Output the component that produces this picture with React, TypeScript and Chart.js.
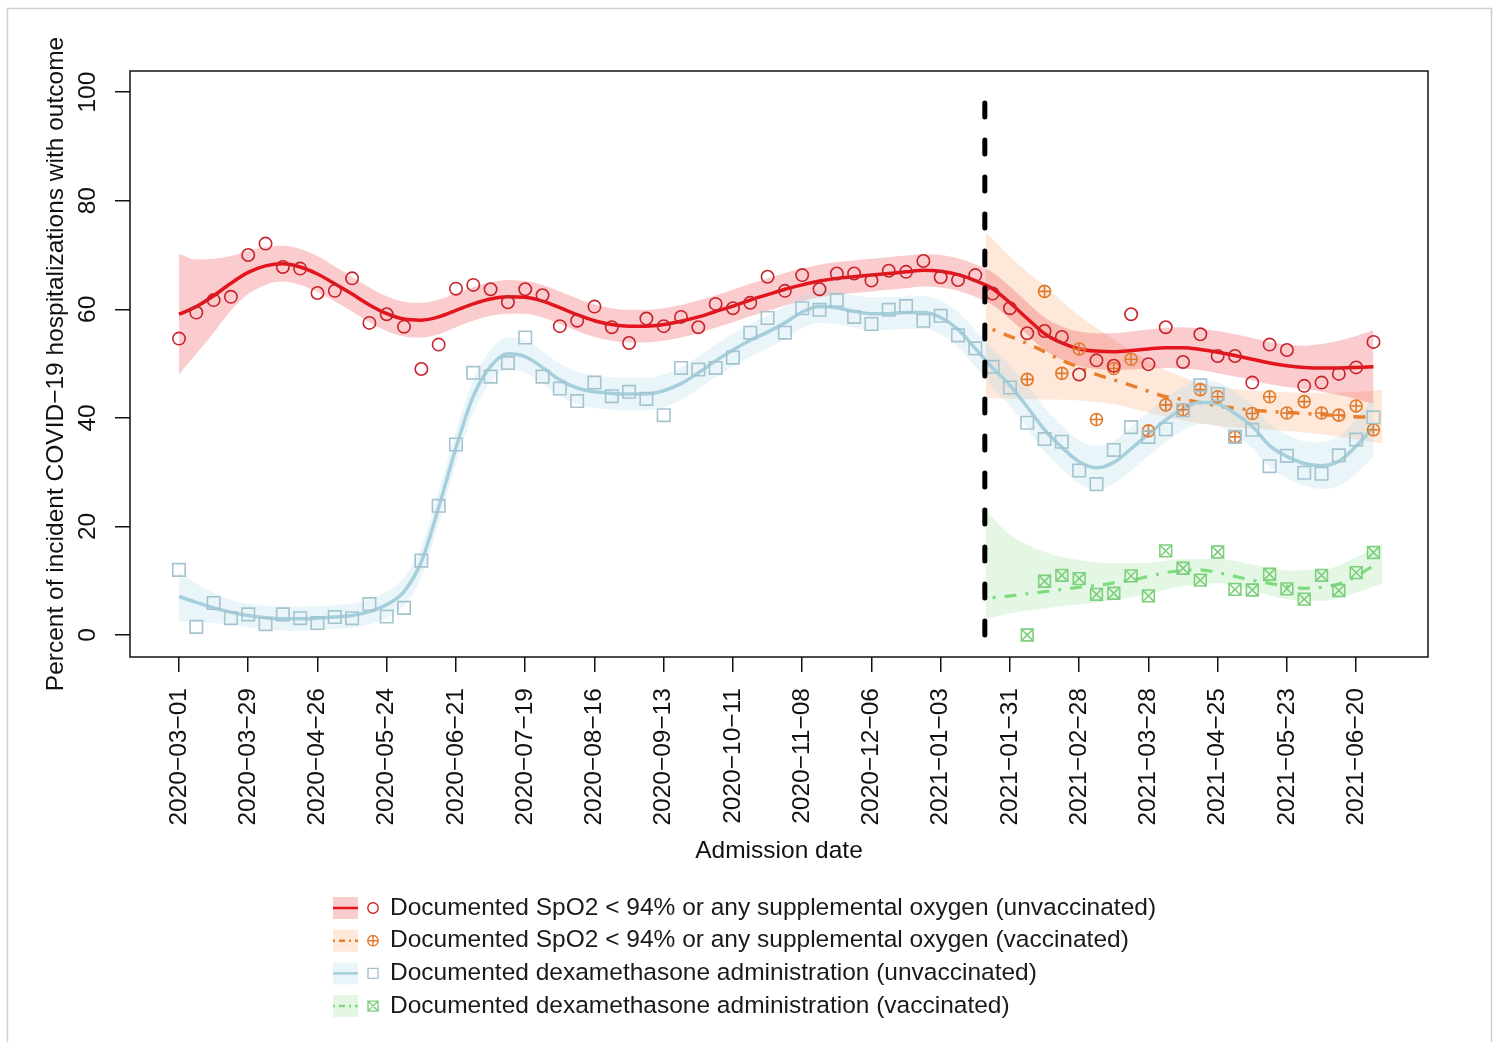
import React, { useEffect, useRef } from 'react';
import { Chart, registerables } from 'chart.js';

Chart.register(...registerables);

const FONT = "'Liberation Sans', Arial, Helvetica, sans-serif";
const TEXT_SIZE = 24.5;

// ---- axis ticks (x = weeks since 2020-03-01) ----
const TICK_WEEKS = [0, 4, 8, 12, 16, 20, 24, 28, 32, 36, 40, 44, 48, 52, 56, 60, 64, 68];
const TICK_LABELS = [
  '2020−03−01', '2020−03−29', '2020−04−26', '2020−05−24', '2020−06−21', '2020−07−19',
  '2020−08−16', '2020−09−13', '2020−10−11', '2020−11−08', '2020−12−06', '2021−01−03',
  '2021−01−31', '2021−02−28', '2021−03−28', '2021−04−25', '2021−05−23', '2021−06−20',
];
const Y_TICKS = [0, 20, 40, 60, 80, 100];
const VACCINE_CUTOFF_WEEK = 46.55;
const VAX_POINT_START = 49;
const VAX_FIT_START = 47;

// ---- weekly observed percentages ----
const RED_POINTS = [
  54.6, 59.4, 61.7, 62.3, 70.0, 72.1, 67.8, 67.5, 63.0, 63.4,
  65.7, 57.5, 59.1, 56.8, 49.0, 53.5, 63.8, 64.5, 63.7, 61.3,
  63.7, 62.6, 56.9, 57.9, 60.5, 56.7, 53.8, 58.3, 56.9, 58.6,
  56.7, 61.0, 60.2, 61.2, 66.0, 63.4, 66.3, 63.7, 66.6, 66.6,
  65.3, 67.1, 66.9, 68.9, 65.9, 65.4, 66.3, 62.9, 60.2, 55.6,
  56.0, 54.9, 48.0, 50.6, 49.6, 59.1, 49.9, 56.7, 50.3, 55.4,
  51.4, 51.4, 46.5, 53.5, 52.5, 45.9, 46.5, 48.1, 49.3, 54.0,
];
const BLUE_POINTS = [
  12.0, 1.5, 5.9, 3.1, 3.8, 2.0, 3.8, 3.1, 2.2, 3.3,
  3.1, 5.7, 3.4, 5.0, 13.7, 23.8, 35.1, 48.3, 47.6, 50.1,
  54.8, 47.6, 45.4, 43.1, 46.5, 44.0, 44.8, 43.5, 40.5, 49.2,
  48.9, 49.2, 51.1, 55.7, 58.4, 55.7, 60.2, 59.9, 61.7, 58.6,
  57.3, 59.9, 60.6, 57.9, 58.8, 55.2, 52.8, 49.4, 45.6, 39.1,
  36.1, 35.6, 30.3, 27.8, 34.1, 38.3, 36.5, 37.9, 41.4, 46.0,
  44.4, 36.5, 37.8, 31.1, 33.0, 29.9, 29.7, 33.1, 36.0, 40.1,
];
const ORANGE_POINTS = [
  47.1, 63.3, 48.2, 52.7, 39.7, 49.1, 50.8, 37.6, 42.4, 41.5,
  45.2, 43.9, 36.5, 40.8, 43.9, 40.9, 43.0, 40.9, 40.5, 42.2, 37.8,
];
const GREEN_POINTS = [
  0.0, 9.9, 11.0, 10.4, 7.5, 7.7, 10.9, 7.2, 15.5, 12.3,
  10.1, 15.3, 8.4, 8.3, 11.2, 8.5, 6.6, 11.0, 8.2, 11.5, 15.2,
];

// ---- smoothed fits ----
const RED_FIT = [
  59.1, 60.5, 62.5, 64.8, 66.8, 68.0, 68.4, 67.8, 66.5, 64.7,
  62.8, 60.8, 59.2, 58.2, 58.0, 58.6, 59.8, 61.0, 61.9, 62.3,
  62.2, 61.5, 60.3, 59.0, 57.9, 57.2, 56.9, 56.9, 57.2, 57.8,
  58.6, 59.6, 60.6, 61.7, 62.7, 63.7, 64.5, 65.2, 65.7, 66.0,
  66.3, 66.6, 66.9, 67.2, 67.0, 66.4, 65.3, 63.8, 61.2, 58.3,
  55.5, 53.8, 52.7, 52.3, 52.2, 52.4, 52.7, 52.9, 52.9, 52.6,
  52.1, 51.5, 50.8, 50.1, 49.6, 49.3, 49.2, 49.2, 49.3, 49.4,
];
const RED_HALF_WIDTH = [
  11.1, 8.7, 6.8, 5.0, 4.0, 3.5, 3.3, 3.3, 3.3, 3.2,
  3.2, 3.2, 3.2, 3.2, 3.2, 3.2, 3.1, 3.1, 3.1, 3.1,
  3.0, 3.0, 3.0, 3.0, 3.0, 3.0, 3.0, 3.0, 3.0, 3.0,
  3.0, 3.0, 3.0, 3.0, 3.0, 3.0, 3.0, 3.0, 3.0, 3.0,
  3.0, 3.0, 3.0, 3.0, 3.0, 3.0, 3.0, 3.0, 3.0, 3.0,
  3.0, 3.1, 3.2, 3.3, 3.4, 3.5, 3.6, 3.7, 3.8, 3.8,
  3.9, 3.9, 3.9, 3.9, 3.9, 4.0, 4.4, 5.0, 5.8, 6.8,
];
const BLUE_FIT = [
  7.1, 6.0, 5.0, 4.2, 3.6, 3.2, 3.0, 3.0, 3.1, 3.3,
  3.6, 4.3, 5.6, 8.0, 13.5, 23.5, 34.5, 44.0, 49.5, 51.8,
  51.3, 49.3, 47.0, 45.5, 44.8, 44.5, 44.4, 44.4, 45.0, 46.3,
  48.3, 50.5, 52.5, 54.3, 55.8, 57.5, 59.5, 60.5, 60.3, 59.6,
  59.2, 59.2, 59.4, 59.4, 58.5, 56.3, 52.8, 49.2, 46.0, 42.0,
  37.8, 34.6, 31.9, 30.8, 31.8, 34.3, 37.0, 39.6, 41.7, 42.9,
  42.6, 40.8, 38.4, 34.9, 32.9, 31.6, 31.2, 32.0, 34.8, 38.3,
];
const BLUE_HALF_WIDTH = [
  4.5, 3.5, 2.8, 2.3, 2.2, 2.2, 2.2, 2.2, 2.2, 2.2,
  2.2, 2.3, 2.4, 2.6, 2.8, 3.0, 3.0, 3.0, 3.0, 3.0,
  3.0, 3.0, 3.0, 3.0, 3.0, 3.0, 3.0, 3.0, 3.0, 3.0,
  3.0, 3.0, 3.0, 3.0, 3.0, 3.0, 3.0, 3.0, 3.0, 3.0,
  3.0, 3.0, 3.0, 3.0, 3.1, 3.2, 3.4, 3.6, 3.8, 3.9,
  4.0, 4.0, 4.0, 4.0, 4.0, 4.0, 4.0, 4.0, 4.0, 4.0,
  4.0, 4.0, 4.0, 4.0, 4.0, 4.1, 4.3, 4.6, 5.0, 5.5,
];
const ORANGE_FIT = [
  56.3, 55.0, 53.7, 52.2, 50.6, 49.3, 48.0, 47.0, 46.0, 44.9,
  43.9, 43.4, 42.8, 42.2, 41.8, 41.4, 41.2, 41.0, 40.8, 40.6,
  40.4, 40.2, 40.1,
];
const GREEN_FIT = [
  6.9, 7.2, 7.6, 8.0, 8.4, 8.8, 9.1, 9.6, 10.1, 10.8,
  11.5, 11.9, 12.0, 11.5, 10.8, 10.1, 9.5, 9.0, 8.6, 8.8,
  9.4, 10.8, 12.8,
];
const VAX_BAND_WEEKS = [46.6, 48, 50, 52, 54, 56, 58, 60, 62, 64, 66, 68, 69.5];
const ORANGE_BAND_UPPER = [74.3, 69.7, 64.3, 58.8, 54.5, 50.5, 47.5, 45.8, 45.0, 44.7, 44.6, 44.8, 45.2];
const ORANGE_BAND_LOWER = [43.6, 43.5, 43.4, 43.2, 42.5, 41.0, 39.5, 38.5, 38.0, 37.6, 37.0, 36.0, 35.3];
const GREEN_BAND_UPPER = [23.0, 18.5, 15.3, 13.8, 13.2, 13.3, 14.0, 14.0, 13.0, 11.9, 12.0, 14.3, 16.8];
const GREEN_BAND_LOWER = [2.8, 4.0, 4.9, 5.6, 6.4, 7.6, 9.0, 9.6, 8.2, 6.6, 6.3, 7.8, 9.5];

const LEGEND_TEXTS = [
  'Documented SpO2 < 94% or any supplemental oxygen (unvaccinated)',
  'Documented SpO2 < 94% or any supplemental oxygen (vaccinated)',
  'Documented dexamethasone administration (unvaccinated)',
  'Documented dexamethasone administration (vaccinated)',
];

// ---- styles ----
const RED_LINE = '#e3141c';
const RED_MARK = '#c8232c';
const RED_BAND = 'rgba(240,40,50,0.24)';
const ORANGE_LINE = '#e8802e';
const ORANGE_MARK = '#e07b2e';
const ORANGE_BAND = 'rgba(245,140,70,0.2)';
const BLUE_LINE = '#a6cfdc';
const BLUE_MARK = '#a3c3cf';
const BLUE_BAND = 'rgba(173,216,230,0.25)';
const GREEN_LINE = '#7ddc7d';
const GREEN_MARK = '#7ccf7c';
const GREEN_BAND = 'rgba(130,220,130,0.22)';
const DOT_DASH = [3, 9, 12, 9];

const LEGEND_STYLE = [
  { band: RED_BAND, line: RED_LINE, dash: [], mark: 'circle', markColor: RED_MARK },
  { band: ORANGE_BAND, line: ORANGE_LINE, dash: [2, 4, 6, 4], mark: 'circlePlus', markColor: ORANGE_MARK },
  { band: BLUE_BAND, line: BLUE_LINE, dash: [], mark: 'square', markColor: BLUE_MARK },
  { band: GREEN_BAND, line: GREEN_LINE, dash: [2, 4, 6, 4], mark: 'squareX', markColor: GREEN_MARK },
];

function series(values: number[], start: number) {
  return values.map((y, i) => ({ x: start + i, y }));
}
function knots(xs: number[], ys: number[]) {
  return ys.map((y, i) => ({ x: xs[i], y }));
}

function bandPair(upper: any[], lower: any[], color: string) {
  const common = { pointRadius: 0, borderWidth: 0, cubicInterpolationMode: 'monotone', order: 10 };
  return [
    { ...common, data: upper, fill: '+1', backgroundColor: color, borderColor: 'rgba(0,0,0,0)' },
    { ...common, data: lower, fill: false, backgroundColor: color, borderColor: 'rgba(0,0,0,0)' },
  ];
}

function fitLine(data: any[], color: string, dash: number[], width: number) {
  return {
    data, borderColor: color, borderWidth: width, borderDash: dash, pointRadius: 0,
    cubicInterpolationMode: 'monotone', fill: false, order: 5, borderCapStyle: 'butt',
  };
}

function marks(data: any[], style: string, radius: number, color: string) {
  return {
    data, showLine: false, pointStyle: style, pointRadius: radius, pointBorderColor: color,
    pointBackgroundColor: 'rgba(0,0,0,0)', pointBorderWidth: 1.6, borderColor: color, fill: false, order: 2,
  };
}

const framePlugin = {
  id: 'rFrame',
  beforeDraw(chart: any) {
    const { ctx, width, height } = chart;
    ctx.save();
    ctx.fillStyle = '#ffffff';
    ctx.fillRect(0, 0, width, height);
    ctx.strokeStyle = '#cfcfcf';
    ctx.lineWidth = 1.5;
    ctx.beginPath();
    ctx.moveTo(7.5, height);
    ctx.lineTo(7.5, 8.5);
    ctx.lineTo(1491.5, 8.5);
    ctx.lineTo(1491.5, height);
    ctx.stroke();
    ctx.restore();
  },
  afterDraw(chart: any) {
    const { ctx, chartArea: a } = chart;
    ctx.save();
    ctx.strokeStyle = '#111';
    ctx.lineWidth = 1.5;
    ctx.strokeRect(a.left, a.top, a.right - a.left, a.bottom - a.top);
    ctx.restore();
  },
};

function drawMark(ctx: CanvasRenderingContext2D, kind: string, x: number, y: number, color: string) {
  ctx.save();
  ctx.strokeStyle = color;
  ctx.lineWidth = 1.4;
  ctx.setLineDash([]);
  ctx.beginPath();
  if (kind === 'circle' || kind === 'circlePlus') {
    const r = 5.2;
    ctx.arc(x, y, r, 0, Math.PI * 2);
    if (kind === 'circlePlus') {
      ctx.moveTo(x - r, y); ctx.lineTo(x + r, y);
      ctx.moveTo(x, y - r); ctx.lineTo(x, y + r);
    }
  } else {
    const h = 5;
    ctx.rect(x - h, y - h, 2 * h, 2 * h);
    if (kind === 'squareX') {
      ctx.moveTo(x - h, y - h); ctx.lineTo(x + h, y + h);
      ctx.moveTo(x + h, y - h); ctx.lineTo(x - h, y + h);
    }
  }
  ctx.stroke();
  ctx.restore();
}

const legendPlugin = {
  id: 'rLegend',
  afterDraw(chart: any) {
    const ctx = chart.ctx as CanvasRenderingContext2D;
    ctx.save();
    LEGEND_STYLE.forEach((s, i) => {
      const y = 908 + i * 32.7;
      ctx.fillStyle = s.band;
      ctx.fillRect(333, y - 11, 25, 22);
      ctx.strokeStyle = s.line;
      ctx.lineWidth = 2.5;
      ctx.setLineDash(s.dash);
      ctx.beginPath();
      ctx.moveTo(333, y);
      ctx.lineTo(358, y);
      ctx.stroke();
      ctx.setLineDash([]);
      drawMark(ctx, s.mark, 373, y, s.markColor);
      ctx.fillStyle = '#1a1a1a';
      ctx.font = `${TEXT_SIZE}px ${FONT}`;
      ctx.textBaseline = 'middle';
      ctx.textAlign = 'left';
      ctx.fillText(LEGEND_TEXTS[i], 390, y);
    });
    ctx.restore();
  },
};

export default function App() {
  const ref = useRef<HTMLCanvasElement | null>(null);

  useEffect(() => {
    const canvas = ref.current;
    if (!canvas) return;
    const redUpper = RED_FIT.map((v, i) => ({ x: i, y: v + RED_HALF_WIDTH[i] }));
    const redLower = RED_FIT.map((v, i) => ({ x: i, y: v - RED_HALF_WIDTH[i] }));
    const blueUpper = BLUE_FIT.map((v, i) => ({ x: i, y: v + BLUE_HALF_WIDTH[i] }));
    const blueLower = BLUE_FIT.map((v, i) => ({ x: i, y: v - BLUE_HALF_WIDTH[i] }));

    const datasets: any[] = [
      ...bandPair(blueUpper, blueLower, BLUE_BAND),
      ...bandPair(redUpper, redLower, RED_BAND),
      ...bandPair(knots(VAX_BAND_WEEKS, GREEN_BAND_UPPER), knots(VAX_BAND_WEEKS, GREEN_BAND_LOWER), GREEN_BAND),
      ...bandPair(knots(VAX_BAND_WEEKS, ORANGE_BAND_UPPER), knots(VAX_BAND_WEEKS, ORANGE_BAND_LOWER), ORANGE_BAND),
      fitLine(series(BLUE_FIT, 0), BLUE_LINE, [], 3.5),
      fitLine(series(RED_FIT, 0), RED_LINE, [], 3.5),
      fitLine(series(GREEN_FIT, VAX_FIT_START), GREEN_LINE, DOT_DASH, 3.2),
      fitLine(series(ORANGE_FIT, VAX_FIT_START), ORANGE_LINE, DOT_DASH, 3.5),
      marks(series(BLUE_POINTS, 0), 'rect', 8.8, BLUE_MARK),
      marks(series(RED_POINTS, 0), 'circle', 6.2, RED_MARK),
      marks(series(GREEN_POINTS, VAX_POINT_START), 'rect', 8.3, GREEN_MARK),
      marks(series(GREEN_POINTS, VAX_POINT_START), 'crossRot', 8.3, GREEN_MARK),
      marks(series(ORANGE_POINTS, VAX_POINT_START), 'circle', 6.0, ORANGE_MARK),
      marks(series(ORANGE_POINTS, VAX_POINT_START), 'cross', 6.0, ORANGE_MARK),
      {
        data: [{ x: VACCINE_CUTOFF_WEEK, y: 0 }, { x: VACCINE_CUTOFF_WEEK, y: 99 }],
        borderColor: '#000', borderWidth: 5, borderDash: [14, 23], borderCapStyle: 'round',
        pointRadius: 0, fill: false, order: 0,
      },
    ];

    const tickFont = { family: FONT, size: TEXT_SIZE };

    const chart = new Chart(canvas, {
      type: 'line',
      data: { datasets },
      options: {
        animation: false,
        responsive: false,
        devicePixelRatio: 1,
        layout: { padding: { left: 0, top: 71, right: 69, bottom: 0 } },
        plugins: {
          legend: { display: false },
          tooltip: { enabled: false },
          filler: { drawTime: 'beforeDatasetsDraw' },
        },
        scales: {
          x: {
            type: 'linear',
            min: -2.83,
            max: 72.15,
            afterBuildTicks: (scale: any) => {
              scale.ticks = TICK_WEEKS.map((v) => ({ value: v }));
            },
            afterFit: (scale: any) => {
              scale.height = 385;
            },
            ticks: {
              autoSkip: false,
              minRotation: 90,
              maxRotation: 90,
              padding: 16,
              color: '#111',
              font: tickFont,
              callback: (_v: any, i: number) => TICK_LABELS[i],
            },
            grid: { drawOnChartArea: false, drawTicks: true, tickLength: 15, color: '#111', lineWidth: 1.5 },
            border: { display: false },
            title: {
              display: true,
              text: 'Admission date',
              color: '#111',
              font: tickFont,
              padding: { top: 0, bottom: 176.3 },
            },
          },
          y: {
            type: 'linear',
            min: -4.05,
            max: 103.9,
            afterBuildTicks: (scale: any) => {
              scale.ticks = Y_TICKS.map((v) => ({ value: v }));
            },
            afterFit: (scale: any) => {
              scale.width = 130;
            },
            ticks: {
              minRotation: 90,
              maxRotation: 90,
              crossAlign: 'center',
              padding: 6,
              color: '#111',
              font: tickFont,
              callback: (v: any) => String(v),
            },
            grid: { drawOnChartArea: false, drawTicks: true, tickLength: 15, color: '#111', lineWidth: 1.5 },
            border: { display: false },
            title: {
              display: true,
              text: 'Percent of incident COVID−19 hospitalizations with outcome',
              color: '#111',
              font: tickFont,
              padding: { top: 41.3, bottom: 0 },
            },
          },
        },
      } as any,
      plugins: [framePlugin, legendPlugin],
    });
    return () => chart.destroy();
  }, []);

  return (
    <div style={{ position: 'fixed', left: 0, top: 0, width: 1497, height: 1042, background: '#fff' }}>
      <canvas ref={ref} width={1497} height={1042} style={{ width: 1497, height: 1042, display: 'block' }} />
    </div>
  );
}
